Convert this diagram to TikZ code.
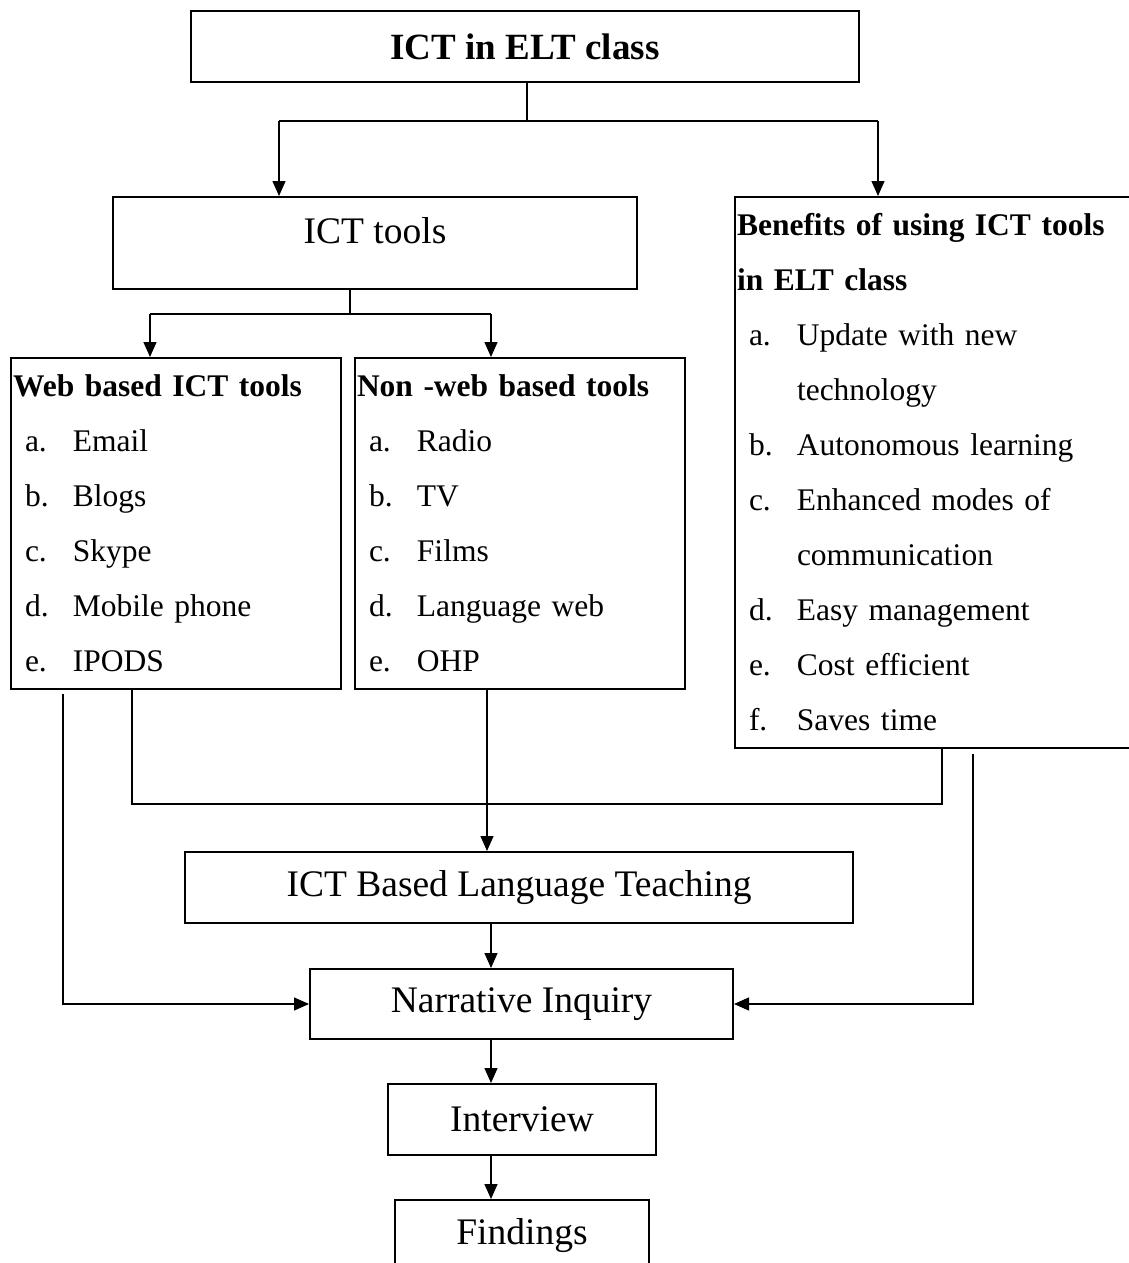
\documentclass[tikz,border=0pt]{standalone}
\usepackage{fontspec}
\setmainfont{Liberation Serif}
\usetikzlibrary{positioning, arrows.meta, calc}
\newcommand{\itm}[2]{\hspace*{12pt}\makebox[48pt][l]{#1}#2}

\begin{document}
\begin{tikzpicture}[x=1pt, y=-1pt, >={Triangle[length=15pt, width=13pt]},
  box/.style={draw, line width=2pt, anchor=north west, inner sep=0pt, font=\fontsize{37.5}{40}\selectfont},
  listbox/.style={draw, line width=2pt, anchor=north west, inner xsep=2pt, inner ysep=0pt, align=left, font=\fontsize{31.5}{55}\selectfont},
  link/.style={line width=1.3pt}]
\useasboundingbox (0,0) rectangle (1129,1263);

\node[box, minimum width=668pt, minimum height=71pt, font=\fontsize{37}{40}\selectfont\bfseries] (elt) at (190,10) {ICT in ELT class};
\node[box, minimum width=524pt, text height=46pt, text depth=46pt] (tools) at (112,196) {ICT tools};
\node[listbox, text width=396pt, minimum height=551pt] (benefit) at (734,196) {\textbf{Benefits of using ICT tools}\\\textbf{in ELT class}\\
  \itm{a.}{Update with new}\\ \itm{}{technology}\\ \itm{b.}{Autonomous learning}\\ \itm{c.}{Enhanced modes of}\\
  \itm{}{communication}\\ \itm{d.}{Easy management}\\ \itm{e.}{Cost efficient}\\ \itm{f.}{Saves time}};
\node[listbox, text width=326pt, minimum height=331pt] (web) at (10,357) {\textbf{Web based ICT tools}\\
  \itm{a.}{Email}\\ \itm{b.}{Blogs}\\ \itm{c.}{Skype}\\ \itm{d.}{Mobile phone}\\ \itm{e.}{IPODS}};
\node[listbox, text width=326pt, minimum height=331pt] (nonweb) at (354,357) {\textbf{Non -web based tools}\\
  \itm{a.}{Radio}\\ \itm{b.}{TV}\\ \itm{c.}{Films}\\ \itm{d.}{Language web}\\ \itm{e.}{OHP}};
\node[box, minimum width=668pt, minimum height=71pt] (based) at (184,851) {ICT Based Language Teaching};
\node[box, minimum width=423pt, minimum height=70pt] (narr) at (309,968) {Narrative Inquiry};
\node[box, minimum width=268pt, minimum height=71pt] (interview) at (387,1083) {Interview};
\node[box, minimum width=254pt, minimum height=71pt] (findings) at (394,1199) {Findings};

% junctions
\coordinate (split) at (527,121); \coordinate (lj) at (279,121); \coordinate (rj) at (878,121);
\coordinate (tj) at (350,314); \coordinate (wj) at (150,314); \coordinate (nj) at (491,314);
\coordinate (bl) at (132,804); \coordinate (br) at (942,804); \coordinate (mj) at (487,804);
\coordinate (lx) at (63,0); \coordinate (rx) at (973,0); \coordinate (ax) at (491,0);

\draw[link] (elt.south -| split) -- (split); \draw[link] (lj) -- (rj);
\draw[link, ->] (lj) -- (lj |- tools.north); \draw[link, ->] (rj) -- (rj |- benefit.north);
\draw[link] (tools.south -| tj) -- (tj); \draw[link] (wj) -- (nj);
\draw[link, ->] (wj) -- (wj |- web.north); \draw[link, ->] (nj) -- (nj |- nonweb.north);
\draw[link] (web.south -| bl) -- (bl) -- (br) -- (benefit.south -| br);
\draw[link] (nonweb.south -| mj) -- (mj); \draw[link, ->] (mj) -- (based.north -| mj);
\draw[link, ->] ([yshift=-4pt]web.south -| lx) |- (narr.west);
\draw[link, ->] ([yshift=-5pt]benefit.south -| rx) |- (narr.east);
\draw[link, ->] (based.south -| ax) -- (narr.north -| ax);
\draw[link, ->] (narr.south -| ax) -- (interview.north -| ax);
\draw[link, ->] (interview.south -| ax) -- (findings.north -| ax);
\end{tikzpicture}
\end{document}
